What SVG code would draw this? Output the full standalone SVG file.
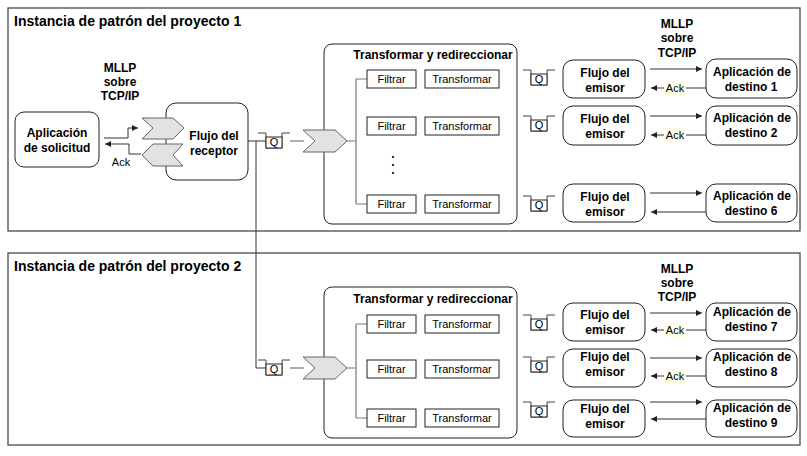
<svg xmlns="http://www.w3.org/2000/svg" xmlns:xlink="http://www.w3.org/1999/xlink" width="807" height="456" viewBox="0 0 807 456">
<style>
.frame{fill:#fff;stroke:#4a4a4a;stroke-width:1.3}
.node{fill:#fff;stroke:#222;stroke-width:1}
.cont{fill:none;stroke:#222;stroke-width:1}
.box{fill:#fff;stroke:#222;stroke-width:1}
.chev{fill:#e2e2e2;stroke:#666;stroke-width:1}
.conn{fill:none;stroke:#333;stroke-width:1}
.gray{fill:none;stroke:#777;stroke-width:1.2}
.b{font-family:"Liberation Sans",Arial,sans-serif;font-weight:bold;font-size:12px;text-anchor:middle;fill:#000}
.title{font-family:"Liberation Sans",Arial,sans-serif;font-weight:bold;font-size:14px;fill:#000}
.r{font-family:"Liberation Sans",Arial,sans-serif;font-size:11px;text-anchor:middle;fill:#000}
.ackbg{fill:#ffffe8;stroke:none}
</style>
<defs>
<marker id="ah" markerWidth="7" markerHeight="6" refX="6" refY="3" orient="auto" markerUnits="userSpaceOnUse">
<path d="M0,0 L6,3 L0,6 z" fill="#222"/>
</marker>
<g id="q">
<path d="M0,0 H8 V15 H24 V0 H32" fill="none" stroke="#444" stroke-width="1"/>
<rect x="8" y="4" width="16" height="11" fill="#fff" stroke="#222" stroke-width="1"/>
</g>
</defs>

<g id="project1">
<rect class="frame" x="8" y="8" width="792" height="223"/>
<text class="title" x="14" y="26">Instancia de patrón del proyecto 1</text>
</g>
<g id="project2">
<rect class="frame" x="8" y="253" width="792" height="192"/>
<text class="title" x="14" y="271">Instancia de patrón del proyecto 2</text>
</g>

<g id="connectors">
<path class="conn" d="M104,138 H128 V128 H138" marker-end="url(#ah)"/>
<path class="conn" d="M141,154 H129 V144 H105" marker-end="url(#ah)"/>
<path class="conn" d="M248,141 H266"/>
<path class="conn" d="M256,141 V368 H266"/>
<path class="gray" d="M290,141 H304"/>
<path class="gray" d="M290,368 H304"/>
<path class="gray" d="M346,141 H356 M356,79 V204 M356,79 H367 M356,204 H367"/>
<path class="gray" d="M346,368 H356 M356,324 V418 M356,324 H367 M356,418 H367"/>
<path class="conn" d="M650,69 H702" marker-end="url(#ah)"/>
<path class="conn" d="M706,88 H651" marker-end="url(#ah)"/>
<path class="conn" d="M650,116 H702" marker-end="url(#ah)"/>
<path class="conn" d="M706,135 H651" marker-end="url(#ah)"/>
<path class="conn" d="M650,193 H702" marker-end="url(#ah)"/>
<path class="conn" d="M706,212 H651" marker-end="url(#ah)"/>
<path class="conn" d="M650,313 H702" marker-end="url(#ah)"/>
<path class="conn" d="M706,330 H651" marker-end="url(#ah)"/>
<path class="conn" d="M650,358 H702" marker-end="url(#ah)"/>
<path class="conn" d="M706,376 H651" marker-end="url(#ah)"/>
<path class="conn" d="M650,402 H702" marker-end="url(#ah)"/>
<path class="conn" d="M706,419 H651" marker-end="url(#ah)"/>
</g>

<g id="labels">
<text class="b" x="120" y="72">MLLP</text>
<text class="b" x="120" y="86">sobre</text>
<text class="b" x="120" y="100">TCP/IP</text>
<text class="r" x="121" y="166">Ack</text>
<text class="b" x="677" y="28">MLLP</text>
<text class="b" x="677" y="42">sobre</text>
<text class="b" x="677" y="56.5">TCP/IP</text>
<text class="b" x="677" y="273">MLLP</text>
<text class="b" x="677" y="287">sobre</text>
<text class="b" x="677" y="301">TCP/IP</text>
<rect class="ackbg" x="664" y="81" width="22" height="14"/>
<text class="r" x="675" y="92">Ack</text>
<rect class="ackbg" x="664" y="128" width="22" height="14"/>
<text class="r" x="675" y="139">Ack</text>
<rect class="ackbg" x="664" y="323" width="22" height="14"/>
<text class="r" x="675" y="334">Ack</text>
<rect class="ackbg" x="664" y="369" width="22" height="14"/>
<text class="r" x="675" y="380">Ack</text>
</g>

<g id="app-solicitud">
<rect class="node" x="15" y="112" width="84" height="55" rx="9"/>
<text class="b" x="57" y="137">Aplicación</text>
<text class="b" x="57" y="152">de solicitud</text>
</g>

<g id="receptor">
<rect class="node" x="166" y="103" width="82" height="77" rx="10"/>
<polygon class="chev" points="142,118 173,118 184,128 173,139 142,139 153,128"/>
<polygon class="chev" points="153,144 183,144 173,155 183,166 153,166 142,155"/>
<text class="b" x="214" y="140">Flujo del</text>
<text class="b" x="214" y="155">receptor</text>
</g>

<g id="queue-p1">
<use xlink:href="#q" x="258" y="133"/>
<text class="r" x="274" y="146">Q</text>
</g>
<g id="queue-p2">
<use xlink:href="#q" x="258" y="360"/>
<text class="r" x="274" y="373">Q</text>
</g>

<g id="transform-p1">
<rect class="cont" x="324" y="44" width="193" height="180" rx="8"/>
<polygon class="chev" points="303,130 335,130 347,141 335,152 303,152 315,141"/>
<text class="b" x="433" y="59">Transformar y redireccionar</text>
<rect class="box" x="367" y="70" width="49" height="18"/>
<text class="r" x="391.5" y="83">Filtrar</text>
<rect class="box" x="425" y="70" width="74" height="18"/>
<text class="r" x="462" y="83">Transformar</text>
<rect class="box" x="367" y="117" width="49" height="18"/>
<text class="r" x="391.5" y="130">Filtrar</text>
<rect class="box" x="425" y="117" width="74" height="18"/>
<text class="r" x="462" y="130">Transformar</text>
<circle cx="393" cy="157" r="1.1" fill="#000"/>
<circle cx="393" cy="165" r="1.1" fill="#000"/>
<circle cx="393" cy="173" r="1.1" fill="#000"/>
<rect class="box" x="367" y="195" width="49" height="18"/>
<text class="r" x="391.5" y="208">Filtrar</text>
<rect class="box" x="425" y="195" width="74" height="18"/>
<text class="r" x="462" y="208">Transformar</text>
</g>

<g id="transform-p2">
<rect class="cont" x="324" y="287" width="193" height="151" rx="8"/>
<polygon class="chev" points="303,357 335,357 347,368 335,379 303,379 315,368"/>
<text class="b" x="433" y="303">Transformar y redireccionar</text>
<rect class="box" x="367" y="315" width="49" height="18"/>
<text class="r" x="391.5" y="328">Filtrar</text>
<rect class="box" x="425" y="315" width="74" height="18"/>
<text class="r" x="462" y="328">Transformar</text>
<rect class="box" x="367" y="360" width="49" height="18"/>
<text class="r" x="391.5" y="373">Filtrar</text>
<rect class="box" x="425" y="360" width="74" height="18"/>
<text class="r" x="462" y="373">Transformar</text>
<rect class="box" x="367" y="409" width="49" height="18"/>
<text class="r" x="391.5" y="422">Filtrar</text>
<rect class="box" x="425" y="409" width="74" height="18"/>
<text class="r" x="462" y="422">Transformar</text>
</g>

<g id="queues-out">
<use xlink:href="#q" x="523" y="70"/><text class="r" x="539" y="83">Q</text>
<use xlink:href="#q" x="523" y="116"/><text class="r" x="539" y="129">Q</text>
<use xlink:href="#q" x="523" y="196"/><text class="r" x="539" y="209">Q</text>
<use xlink:href="#q" x="523" y="315"/><text class="r" x="539" y="328">Q</text>
<use xlink:href="#q" x="523" y="357"/><text class="r" x="539" y="370">Q</text>
<use xlink:href="#q" x="523" y="402"/><text class="r" x="539" y="415">Q</text>
</g>

<g id="emisor-1"><rect class="node" x="563" y="60" width="82" height="38" rx="10"/><text class="b" x="605" y="77">Flujo del</text><text class="b" x="605" y="92">emisor</text></g>
<g id="emisor-2"><rect class="node" x="563" y="106" width="82" height="39" rx="10"/><text class="b" x="605" y="123">Flujo del</text><text class="b" x="605" y="138">emisor</text></g>
<g id="emisor-6"><rect class="node" x="563" y="184" width="82" height="38" rx="10"/><text class="b" x="605" y="201">Flujo del</text><text class="b" x="605" y="216">emisor</text></g>
<g id="emisor-7"><rect class="node" x="563" y="303" width="82" height="38" rx="10"/><text class="b" x="605" y="319">Flujo del</text><text class="b" x="605" y="334">emisor</text></g>
<g id="emisor-8"><rect class="node" x="563" y="349" width="82" height="38" rx="10"/><text class="b" x="605" y="361">Flujo del</text><text class="b" x="605" y="376">emisor</text></g>
<g id="emisor-9"><rect class="node" x="563" y="400" width="82" height="37" rx="10"/><text class="b" x="605" y="413">Flujo del</text><text class="b" x="605" y="428">emisor</text></g>

<g id="destino-1"><rect class="node" x="706" y="59" width="91" height="39" rx="10"/><text class="b" x="752" y="76">Aplicación de</text><text class="b" x="751" y="91">destino 1</text></g>
<g id="destino-2"><rect class="node" x="706" y="106" width="91" height="39" rx="10"/><text class="b" x="752" y="122">Aplicación de</text><text class="b" x="751" y="137">destino 2</text></g>
<g id="destino-6"><rect class="node" x="706" y="184" width="91" height="38" rx="10"/><text class="b" x="752" y="200">Aplicación de</text><text class="b" x="751" y="215">destino 6</text></g>
<g id="destino-7"><rect class="node" x="706" y="303" width="91" height="38" rx="10"/><text class="b" x="752" y="316">Aplicación de</text><text class="b" x="751" y="331">destino 7</text></g>
<g id="destino-8"><rect class="node" x="706" y="349" width="91" height="38" rx="10"/><text class="b" x="752" y="361">Aplicación de</text><text class="b" x="751" y="376">destino 8</text></g>
<g id="destino-9"><rect class="node" x="706" y="400" width="91" height="37" rx="10"/><text class="b" x="752" y="412">Aplicación de</text><text class="b" x="751" y="427">destino 9</text></g>
</svg>
